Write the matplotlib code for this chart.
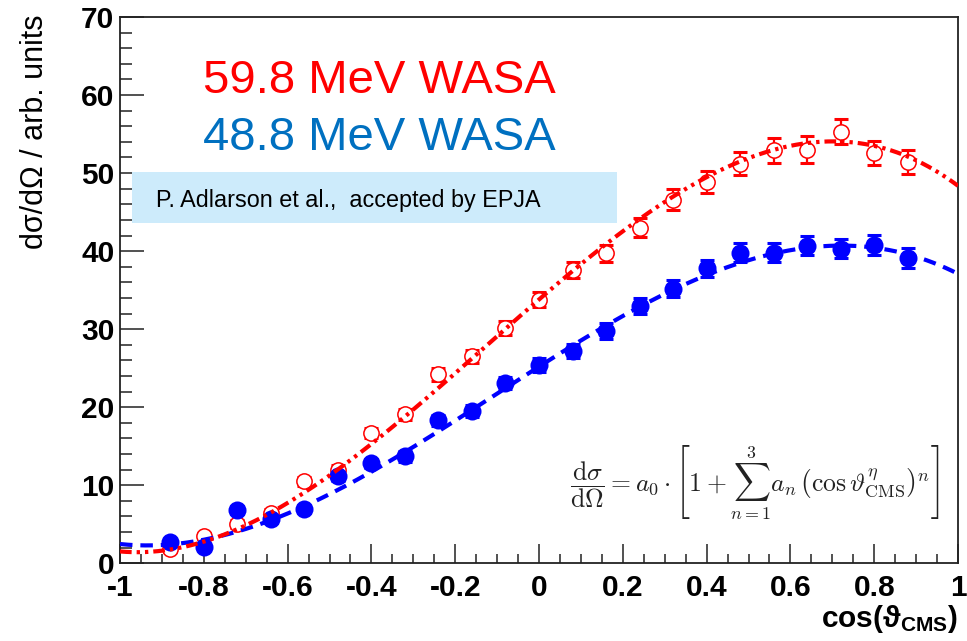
import numpy as np
import matplotlib
matplotlib.use("Agg")
import matplotlib.pyplot as plt
from matplotlib.ticker import MultipleLocator

plt.rcParams['font.family'] = ['Liberation Sans', 'DejaVu Sans']
plt.rcParams['axes.unicode_minus'] = False
plt.rcParams['mathtext.fontset'] = 'custom'
plt.rcParams['mathtext.rm'] = 'Liberation Sans'
plt.rcParams['mathtext.bf'] = 'Liberation Sans:bold'
plt.rcParams['mathtext.it'] = 'Liberation Sans:italic'

# bin centres in cos(theta_CMS)
cos_theta = [-0.88, -0.80, -0.72, -0.64, -0.56, -0.48, -0.40, -0.32, -0.24, -0.16,
             -0.08, 0.00, 0.08, 0.16, 0.24, 0.32, 0.40, 0.48, 0.56, 0.64,
             0.72, 0.80, 0.88]

# 59.8 MeV WASA
xs_598 = [1.8, 3.5, 5.0, 6.4, 10.5, 12.0, 16.7, 19.1, 24.2, 26.5,
          30.1, 33.8, 37.6, 39.7, 43.0, 46.6, 48.9, 51.2, 52.9, 53.0,
          55.3, 52.6, 51.4]
err_598 = [0.4, 0.4, 0.5, 0.5, 0.6, 0.6, 0.7, 0.7, 0.8, 0.8,
           0.9, 0.9, 1.0, 1.1, 1.2, 1.3, 1.4, 1.5, 1.6, 1.7,
           1.6, 1.5, 1.5]

# 48.8 MeV WASA
xs_488 = [2.7, 2.1, 6.8, 5.7, 7.0, 11.2, 12.8, 13.7, 18.3, 19.5,
          23.1, 25.4, 27.2, 29.8, 33.0, 35.2, 37.8, 39.8, 39.8, 40.7,
          40.3, 40.8, 39.1]
err_488 = [0.4, 0.4, 0.5, 0.5, 0.5, 0.6, 0.6, 0.7, 0.7, 0.8,
           0.8, 0.9, 0.9, 1.0, 1.0, 1.1, 1.1, 1.2, 1.2, 1.25,
           1.2, 1.25, 1.3]

# cubic fit parameters: a0 * [1 + sum a_n x^n]
fit_598 = [33.8, 1.373, -0.262, -0.680]
fit_488 = [25.2, 1.357, -0.215, -0.670]

RED = '#ff0000'
BLUE = '#0000ff'
AXC = '#222222'

fig = plt.figure(figsize=(9.67, 6.41), dpi=100)
W, H = 967.0, 641.0
ax = fig.add_axes([120 / W, 1 - 563.3 / H, (958 - 120) / W, (563.3 - 17) / H])
ax.set_xlim(-1, 1)
ax.set_ylim(0, 70)


def fit_curve(p, x):
    a0, a1, a2, a3 = p
    return a0 * (1 + a1 * x + a2 * x ** 2 + a3 * x ** 3)


xx = np.linspace(-1, 1, 400)

# data points with error bars
ax.errorbar(cos_theta, xs_598, yerr=err_598, fmt='none', ecolor=RED,
            elinewidth=1.6, capsize=5, capthick=2.2, zorder=2)
ax.plot(cos_theta, xs_598, 'o', ms=11, mfc='white', mec=RED, mew=1.1, zorder=3)
ax.errorbar(cos_theta, xs_488, yerr=err_488, fmt='none', ecolor=BLUE,
            elinewidth=1.6, capsize=5, capthick=2.2, zorder=2)
ax.plot(cos_theta, xs_488, 'o', ms=13, mfc=BLUE, mec=BLUE, mew=0, zorder=3)

# fitted distributions
ax.plot(xx, fit_curve(fit_488, xx), color=BLUE, lw=3.0,
        dashes=(3.0, 1.9), zorder=4)
ax.plot(xx, fit_curve(fit_598, xx), color=RED, lw=3.0,
        dashes=(2.8, 1.2, 0.8, 1.2, 0.8, 1.2), zorder=4)

# axes styling
for s in ax.spines.values():
    s.set_color(AXC)
    s.set_linewidth(1.3)
ax.xaxis.set_major_locator(MultipleLocator(0.2))
ax.xaxis.set_minor_locator(MultipleLocator(0.05))
ax.yaxis.set_major_locator(MultipleLocator(10))
ax.yaxis.set_minor_locator(MultipleLocator(2))
ax.tick_params(axis='both', which='both', direction='in', color=AXC, width=1.1,
               top=False, right=False)
ax.tick_params(axis='x', which='major', length=13.5, pad=8)
ax.tick_params(axis='x', which='minor', length=6.5)
ax.tick_params(axis='y', which='major', length=17.3, pad=4)
ax.tick_params(axis='y', which='minor', length=8.6)


def fmt(v):
    s = ('%.1f' % v).rstrip('0').rstrip('.')
    return '0' if s in ('-0', '0') else s


ax.set_xticks(np.arange(-1, 1.01, 0.2))
ax.set_xticklabels([fmt(v) for v in np.arange(-1, 1.01, 0.2)])
for lab in ax.get_xticklabels() + ax.get_yticklabels():
    lab.set_fontweight('bold')
    lab.set_fontsize(21.5)
    lab.set_color('black')

# axis titles
fig.text(35 / W, 1 - 132 / H, 'dσ/dΩ / arb. units', rotation=90,
         ha='center', va='center', fontsize=22, color='black')
fig.text(958 / W, 1 - 627 / H, r'$\mathbf{cos(\vartheta_{CMS})}$',
         ha='right', va='baseline', fontsize=21.5, color='black')

# energy labels
ax.text(379 / W, 1 - 92.7 / H, '59.8 MeV WASA', transform=fig.transFigure,
        ha='center', va='baseline', fontsize=34, color=RED)
ax.text(379 / W, 1 - 150 / H, '48.8 MeV WASA', transform=fig.transFigure,
        ha='center', va='baseline', fontsize=34, color='#0070c0')

# reference box
fig.patches.append(plt.Rectangle((131.7 / W, 1 - 223.3 / H), (617 - 131.7) / W,
                                 (223.3 - 172.3) / H, transform=fig.transFigure,
                                 facecolor='#cdebfb', edgecolor='none', zorder=5))
fig.text(156 / W, 1 - 206.7 / H, 'P. Adlarson et al.,  accepted by EPJA',
         ha='left', va='baseline', fontsize=16.8, color='black', zorder=6)

# fit function
ax.text(755 / W, 1 - 482 / H,
        r'$\dfrac{\mathrm{d}\sigma}{\mathrm{d}\Omega} = a_0 \cdot '
        r'\left[1 + \sum_{n=1}^{3} a_n\,\left(\cos\vartheta^{\eta}_{\mathrm{CMS}}\right)^n\right]$',
        transform=fig.transFigure, ha='center', va='center', fontsize=18.5,
        math_fontfamily='cm', color='#222222', zorder=6)

fig.savefig('out.png', dpi=100, facecolor='white')
